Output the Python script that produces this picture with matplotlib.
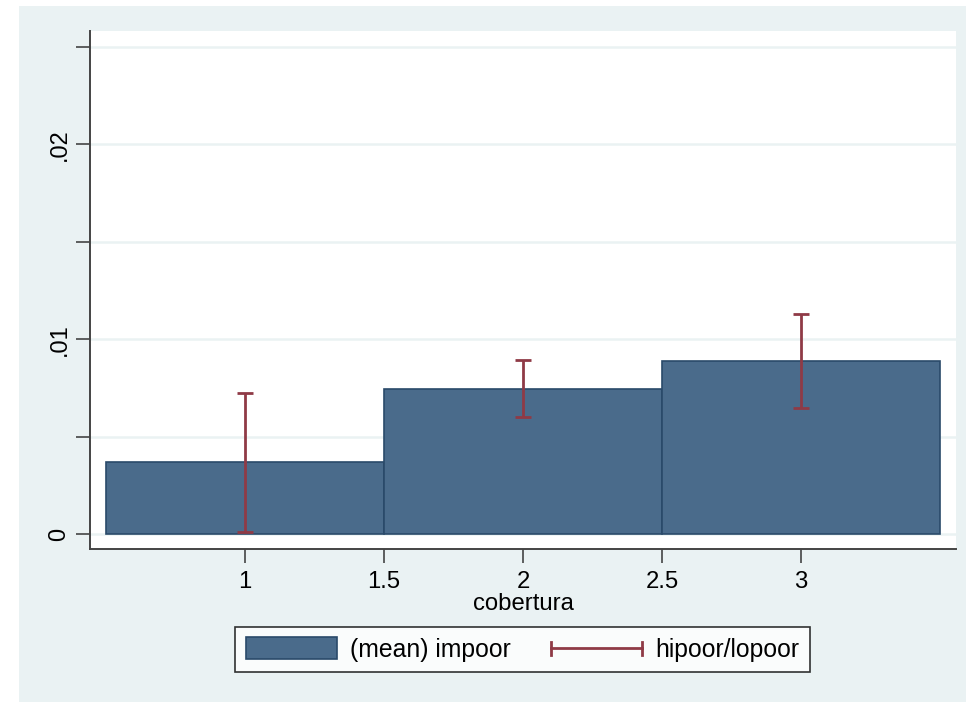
import matplotlib
matplotlib.use("Agg")
import matplotlib.pyplot as plt
from matplotlib.patches import Rectangle, Patch
from matplotlib.lines import Line2D
from matplotlib.legend_handler import HandlerBase

plt.rcParams['font.family'] = ['Liberation Sans', 'DejaVu Sans']

# Data
cobertura = [1, 2, 3]
mean_impoor = [0.0037, 0.00744, 0.0089]
hipoor = [0.00724, 0.00893, 0.01131]
lopoor = [0.0001, 0.0060, 0.00645]
ytick_major = [0, 0.01, 0.02]
ytick_labels = ["0", ".01", ".02"]
ytick_minor = [0.005, 0.015, 0.025]
xticks = [1, 1.5, 2, 2.5, 3]
xtick_labels = ["1", "1.5", "2", "2.5", "3"]

BAR = "#4a6b8b"
BAR_EDGE = "#2a4a6a"
ERR = "#8f3a46"
BG = "#eaf2f3"
GRID = "#eaf2f3"
W, H = 966, 702

fig = plt.figure(figsize=(W / 100, H / 100), dpi=100)
fig.patch.set_facecolor("white")
fig.patches.append(Rectangle((19 / W, 0), 1 - 19 / W, (H - 6) / H,
                             transform=fig.transFigure, facecolor=BG,
                             edgecolor="none", zorder=-10))

ax = fig.add_axes([90 / W, 1 - 549 / H, (956 - 90) / W, (549 - 31) / H])
ax.set_facecolor("white")

ax.bar(cobertura, mean_impoor, width=1.0, color=BAR, edgecolor=BAR_EDGE,
       linewidth=1.2, zorder=2)
yerr = [[m - l for m, l in zip(mean_impoor, lopoor)],
        [h - m for m, h in zip(mean_impoor, hipoor)]]
ax.errorbar(cobertura, mean_impoor, yerr=yerr, fmt="none", ecolor=ERR,
            elinewidth=2, capsize=5.5, capthick=2, zorder=3)

ax.set_xlim(0.4424, 3.5576)
ax.set_ylim(-0.00077, 0.02582)

ax.set_yticks(ytick_major)
ax.set_yticklabels(ytick_labels, rotation=90, va="center")
ax.set_yticks(ytick_minor, minor=True)
ax.set_xticks(xticks)
ax.set_xticklabels(xtick_labels)

for y in ytick_major + ytick_minor:
    ax.axhline(y, color=GRID, linewidth=1.8, zorder=1)

ax.tick_params(axis="y", which="both", length=10, width=1.2, color="#444444",
               labelsize=17, pad=4)
ax.tick_params(axis="x", which="major", length=10, width=1.2, color="#444444",
               labelsize=17.2, pad=6)

for s in ["top", "right"]:
    ax.spines[s].set_visible(False)
for s in ["left", "bottom"]:
    ax.spines[s].set_color("#444444")
    ax.spines[s].set_linewidth(1.4)

ax.set_xlabel("cobertura", fontsize=17.2, labelpad=0)


class HandlerErrH(HandlerBase):
    def create_artists(self, legend, orig_handle, xdescent, ydescent,
                       width, height, fontsize, trans):
        y = height / 2 - ydescent
        x0, x1 = -xdescent, -xdescent + width
        c = 4.5
        lines = [
            Line2D([x0, x1], [y, y], color=ERR, lw=2),
            Line2D([x0, x0], [y - c, y + c], color=ERR, lw=2),
            Line2D([x1, x1], [y - c, y + c], color=ERR, lw=2),
        ]
        for l in lines:
            l.set_transform(trans)
        return lines


err_handle = Line2D([], [], color=ERR)
bar_handle = Patch(facecolor=BAR, edgecolor=BAR_EDGE, linewidth=1.2)

leg = fig.legend([bar_handle, err_handle], ["(mean) impoor", "hipoor/lopoor"],
                 handler_map={Line2D: HandlerErrH()},
                 loc="center", bbox_to_anchor=(522.5 / W, 1 - 649.5 / H),
                 ncol=2, fontsize=17.8, frameon=True, fancybox=False,
                 edgecolor="black", facecolor="white",
                 handlelength=3.68, handleheight=1.0, handletextpad=0.52,
                 columnspacing=1.66, borderpad=0.42)
leg.get_frame().set_linewidth(1.2)

fig.savefig("out.png", dpi=100, facecolor=fig.get_facecolor())
